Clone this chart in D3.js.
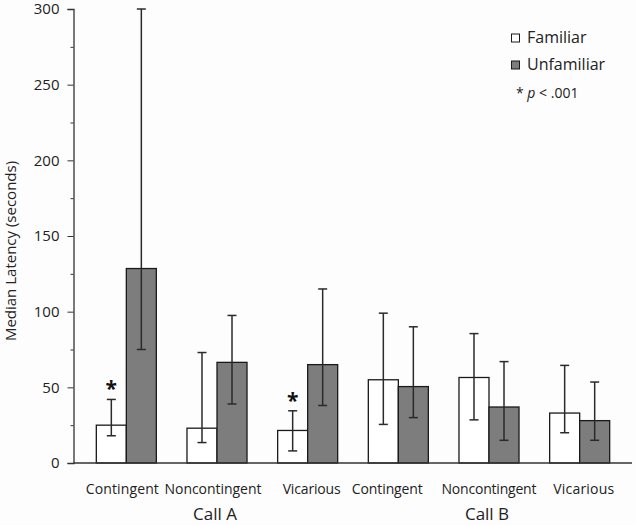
<!DOCTYPE html>
<html><head><meta charset="utf-8">
<script src="https://cdn.jsdelivr.net/npm/d3@7"></script>
<style>
html,body{margin:0;padding:0;background:#fdfdfd;}
svg{display:block;font-family:"Open Sans",sans-serif;}
</style></head>
<body><svg id="c" width="636" height="525"></svg>
<script>
const groups = ["A-Contingent","A-Noncontingent","A-Vicarious","B-Contingent","B-Noncontingent","B-Vicarious"];
const groupLabels = ["Contingent","Noncontingent","Vicarious","Contingent","Noncontingent","Vicarious"];
const calls = ["Call A","Call B"];
const callGroups = ["A-Noncontingent","B-Noncontingent"];
const series = ["Familiar","Unfamiliar"];
const familiar = [25, 23, 21.5, 55, 56.5, 33];
const familiarLow = [18, 13.5, 8, 25.5, 28.5, 20];
const familiarHigh = [42, 73, 34.5, 99, 85.5, 64.5];
const unfamiliar = [128.5, 66.5, 65, 50.5, 37, 28];
const unfamiliarLow = [75, 39, 38, 30, 15, 15];
const unfamiliarHigh = [300, 97.5, 115, 90, 67, 53.5];
const significant = [true, false, true, false, false, false];
const yTicks = [0, 50, 100, 150, 200, 250, 300];
const yMinorTicks = [25, 75, 125, 175, 225, 275];

const svg = d3.select("#c");
const y = d3.scaleLinear().domain([0, 300]).range([463, 9]);
const x = d3.scaleBand().domain(groups).range([81, 625]).paddingInner(0.338).paddingOuter(0.169);
const xs = d3.scaleBand().domain(series).range([0, x.bandwidth()]);

const rows = groups.map((g, i) => [
  {g, s: "Familiar", v: familiar[i], lo: familiarLow[i], hi: familiarHigh[i]},
  {g, s: "Unfamiliar", v: unfamiliar[i], lo: unfamiliarLow[i], hi: unfamiliarHigh[i]}
]).flat();
const fill = {Familiar: "#ffffff", Unfamiliar: "#7d7d7d"};

// y axis
const axisX = 73.5;
svg.append("g").attr("transform", `translate(${axisX},0)`)
  .call(d3.axisLeft(y).tickValues(yTicks).tickSize(6).tickPadding(8))
  .call(g => { g.select(".domain").attr("stroke", "#333").attr("stroke-width", 1.3);
    g.selectAll(".tick line").attr("stroke", "#333");
    g.selectAll(".tick text").attr("font-size", 15).attr("fill", "#222").attr("font-family", "Open Sans"); });
svg.append("g").attr("transform", `translate(${axisX},0)`)
  .call(d3.axisLeft(y).tickValues(yMinorTicks).tickSize(3).tickFormat(""))
  .call(g => { g.select(".domain").remove(); g.selectAll(".tick line").attr("stroke", "#333"); });

// bars
svg.append("g").selectAll("rect").data(rows).join("rect")
  .attr("x", d => x(d.g) + xs(d.s))
  .attr("y", d => y(d.v))
  .attr("width", xs.bandwidth())
  .attr("height", d => y(0) - y(d.v))
  .attr("fill", d => fill[d.s])
  .attr("stroke", "#1a1a1a").attr("stroke-width", 1.3);

// x axis line
svg.append("line").attr("x1", axisX).attr("x2", 632).attr("y1", y(0)).attr("y2", y(0))
  .attr("stroke", "#333").attr("stroke-width", 1.3);

// error bars
const cap = 4.5;
const eb = svg.append("g").attr("stroke", "#2a2a2a").attr("stroke-width", 1.5);
rows.forEach(d => {
  const cx = x(d.g) + xs(d.s) + xs.bandwidth() / 2;
  eb.append("line").attr("x1", cx).attr("x2", cx).attr("y1", y(d.lo)).attr("y2", y(d.hi));
  eb.append("line").attr("x1", cx - cap).attr("x2", cx + cap).attr("y1", y(d.lo)).attr("y2", y(d.lo));
  eb.append("line").attr("x1", cx - cap).attr("x2", cx + cap).attr("y1", y(d.hi)).attr("y2", y(d.hi));
});

// significance stars
groups.forEach((g, i) => {
  if (!significant[i]) return;
  const cx = x(g) + xs("Familiar") + xs.bandwidth() / 2;
  svg.append("text").attr("x", cx).attr("y", y(familiarHigh[i]) - 3)
    .attr("text-anchor", "middle").attr("font-size", 21).attr("font-weight", "bold")
    .attr("fill", "#111").text("*");
});

// x labels (slightly shifted from group centres, as in the original)
const labelShift = [-4, -4, 4, -11, 0, 4];
const labelWidth = [73, 97, 58, 71, 95, 61];
svg.append("g").selectAll("text").data(groups).join("text")
  .attr("x", (g, i) => x(g) + x.bandwidth() / 2 + labelShift[i])
  .attr("y", 494)
  .attr("text-anchor", "middle").attr("font-size", 14).attr("fill", "#222")
  .attr("textLength", (g, i) => labelWidth[i]).attr("lengthAdjust", "spacing")
  .text((g, i) => groupLabels[i]);
svg.append("g").selectAll("text").data(calls).join("text")
  .attr("x", (c, i) => x(callGroups[i]) + x.bandwidth() / 2 - 2).attr("y", 520)
  .attr("text-anchor", "middle").attr("font-size", 17).attr("fill", "#222")
  .text(c => c);

// y title
svg.append("text").attr("transform", "translate(16,251) rotate(-90)")
  .attr("text-anchor", "middle").attr("font-size", 15).attr("fill", "#222")
  .text("Median Latency (seconds)");

// legend
const lg = svg.append("g");
series.forEach((s, i) => {
  const yy = 34 + i * 27;
  lg.append("rect").attr("x", 511.5).attr("y", yy).attr("width", 8).attr("height", 8)
    .attr("fill", fill[s]).attr("stroke", "#1a1a1a").attr("stroke-width", 1);
  lg.append("text").attr("x", 527).attr("y", yy + 9).attr("font-size", 16).attr("fill", "#222").text(s);
});
const note = lg.append("text").attr("x", 516).attr("y", 98).attr("font-size", 14).attr("fill", "#222");
note.append("tspan").text("* ");
note.append("tspan").attr("font-style", "italic").text("p");
note.append("tspan").text(" < .001");
</script></body></html>
